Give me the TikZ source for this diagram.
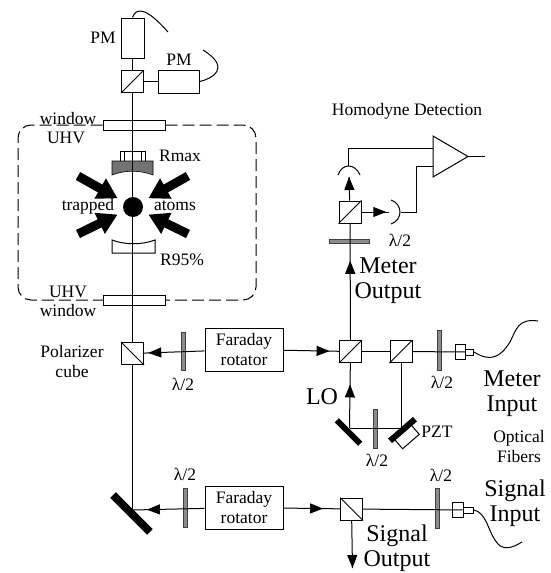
\documentclass[tikz,border=0pt]{standalone}
\usepackage{fontspec}
\setmainfont{Liberation Serif}
\usetikzlibrary{arrows.meta,calc,decorations.markings}
\tikzset{
  box/.style={draw,line width=1pt,fill=white,inner sep=0pt,align=center,font=\fontsize{17.5}{20}\selectfont},
  cube/.style={draw,line width=1pt,fill=white,inner sep=0pt,minimum size=22pt},
  plate/.style={draw=black!75,fill=black!45,line width=.7pt,inner sep=0pt},
  window/.style={draw,line width=1pt,fill=white,inner sep=0pt,minimum width=62pt,minimum height=10pt},
  mirror/.style={fill=black,inner sep=0pt,minimum width=52pt,minimum height=8pt},
  small/.style={inner sep=0pt,align=center,font=\fontsize{17.5}{20}\selectfont},
  big/.style={inner sep=0pt,align=center,font=\fontsize{24}{25}\selectfont},
  midtip/.style={postaction={decorate},decoration={markings,mark=at position #1 with {\arrow{Triangle[length=13pt,width=10pt]}}}},
  bigarrow/.style={line width=9pt,-{Triangle[length=20pt,width=22pt]}}
}
\begin{document}
\begin{tikzpicture}[x=1pt,y=-1pt,line width=1pt]
\useasboundingbox (0,0) rectangle (551,573);
\node[window] (winup) at (134,125) {};
\node[window] (winlow) at (134.5,300) {};
\draw[dash pattern=on 12pt off 5pt,rounded corners=13pt] (winup.west) -- (18,125) -- (18,300) -- (winlow.west);
\draw[dash pattern=on 12pt off 5pt,rounded corners=13pt] (winup.east) -- (256,125) -- (256,300) -- (winlow.east);
\node[box,minimum width=23pt,minimum height=40pt] (pmup) at (132.5,38) {};
\node[cube] (cubeup) at (132.5,81.5) {};
\node[box,minimum width=41pt,minimum height=23pt] (pmright) at (178.5,81.5) {};
\node[cube] (cubepol) at (132.5,353.5) {};
\node[mirror,rotate=-45] (mirrorlow) at (131.5,513.5) {};
\coordinate (turnlow) at (132.5,510);
\node[plate,minimum width=4pt,minimum height=38pt] (plateu) at (183,351) {};
\node[box,minimum width=78pt,minimum height=43pt] (farau) at (244,349.5) {Faraday\\rotator};
\node[plate,minimum width=4pt,minimum height=39pt] (platel) at (185.5,508) {};
\node[box,minimum width=78pt,minimum height=43pt] (faral) at (244,507.5) {Faraday\\rotator};
\node[cube] (cubemet) at (350.5,351.5) {};
\node[cube] (cubepzt) at (401,351.5) {};
\node[cube] (cubehom) at (350,212) {};
\node[cube] (cubesig) at (351.5,509) {};
\node[plate,minimum width=4pt,minimum height=40pt] (platem) at (439,350) {};
\node[plate,minimum width=4pt,minimum height=40pt] (plates) at (437,508) {};
\node[plate,minimum width=40pt,minimum height=4pt] (platehom) at (349,241) {};
\node[plate,minimum width=4pt,minimum height=39pt] (platelo) at (375,428.5) {};
\node[box,minimum width=10pt,minimum height=15pt] (fibm) at (460.5,352) {};
\node[box,minimum width=8pt,minimum height=6pt] (plugm) at (469.5,352) {};
\node[box,minimum width=11pt,minimum height=15pt] (fibs) at (457.5,509.5) {};
\node[box,minimum width=10pt,minimum height=6pt] (plugs) at (468,510) {};
\node[mirror,rotate=-45,minimum width=33pt,minimum height=6pt] (mirrorlo) at (348.5,432) {};
\node[draw,fill=white,rotate=41,minimum width=22pt,minimum height=12pt,inner sep=0pt] (pzt) at (407,437) {};
\node[mirror,rotate=41,minimum width=33pt,minimum height=6pt] (mirrorpzt) at (402.5,430) {};
\coordinate (turnlo) at (349.5,428);
\coordinate (turnpzt) at (401,428);
\coordinate (ampa) at (433,136);
\coordinate (ampb) at (433,177);
\coordinate (ampc) at (468,156.5);
\coordinate (ampup) at (433,148);
\coordinate (amplow) at (433,166);
\coordinate (ampout) at (485,156.5);
\coordinate (detup) at (348.5,166);
\coordinate (detright) at (401,212);
\draw (pmup) -- (cubeup);
\draw (cubeup) -- (pmright);
\draw (cubeup) -- (cubepol);
\draw (cubepol) -- (turnlow);
\draw[midtip=.93] (farau) -- (cubepol);
\draw[midtip=.8] (faral) -- (turnlow);
\draw[midtip=.83] (farau) -- (cubemet);
\draw[midtip=.7] (faral) -- (cubesig);
\draw (cubesig) -- (plugs);
\draw (cubemet) -- (cubepzt);
\draw (cubepzt) -- (plugm);
\draw (cubepzt) -- (turnpzt) -- (turnlo);
\draw[midtip=.67] (turnlo) -- (cubemet);
\draw[midtip=.68] (cubemet) -- (cubehom);
\draw[midtip=1] (cubehom) -- (349,177);
\draw[midtip=.9] (cubehom) -- (389,212);
\draw (338,175) .. controls (342,163) and (355,163) .. (360,175);
\draw (391,200) .. controls (403,204) and (403,220) .. (391,224);
\draw (detup) |- (ampup);
\draw (detright) -| (416,166) -- (amplow);
\draw[fill=white] (ampa) -- (ampb) -- (ampc) -- cycle;
\draw (ampc) -- (ampout);
\draw (cubeup.south west) -- (cubeup.north east);
\draw (cubehom.south west) -- (cubehom.north east);
\draw (cubemet.south west) -- (cubemet.north east);
\draw (cubepzt.south west) -- (cubepzt.north east);
\draw (cubepol.north west) -- (cubepol.south east);
\draw (cubesig.north west) -- (cubesig.south east);
\draw[midtip=1] (cubesig) -- (352.5,568);
\draw (120,161) -- (120,151) -- (145,151) -- (145,161) (124,151) -- (124,161) (141,151) -- (141,161);
\draw[fill=black!55,line width=.6pt] (112,161) -- (153,161) -- (153,175) .. controls (140,170) and (125,170) .. (112,175) -- cycle;
\draw[fill=white] (112,240) .. controls (125,245) and (142,245) .. (155,240) -- (155,253) -- (112,253) -- cycle;
\draw (132.5,92) -- (132.5,342);
\node[circle,fill=black,minimum size=20pt,inner sep=0pt] (atoms) at (133,207) {};
\foreach \a/\b in {78/176,188/176,78/234,188/234}
  \draw[bigarrow] (\a,\b) -- ($(\a,\b)!.72!(133,207)$);
\draw (pmup.north) .. controls (136,8) and (145,6) .. (168,32);
\draw (pmright.east) .. controls (212,79) and (232,68) .. (203,50);
\draw (plugm.east) .. controls (490,362) and (500,358) .. (510,342) .. controls (516,330) and (518,318) .. (538,321);
\draw (plugs.east) .. controls (486,512) and (488,530) .. (495,540) .. controls (502,552) and (512,548) .. (522,542);
\node[small] (labpma) at (103,38) {PM};
\node[small] (labpmb) at (179,60) {PM};
\node[small] (labwina) at (68,119) {window};
\node[small] (labuhva) at (66,138) {UHV};
\node[small] (labrmax) at (180,156) {Rmax};
\node[small] (labtrap) at (88,206) {trapped};
\node[small] (labatom) at (175,206) {atoms};
\node[small] (labr) at (182,260) {R95\%};
\node[small] (labuhvb) at (68,292) {UHV};
\node[small] (labwinb) at (68,311) {window};
\node[small] (labpol) at (72,362) {Polarizer\\cube};
\node[small] (labla) at (183,384) {λ/2};
\node[small] (lablb) at (185,474) {λ/2};
\node[small] (lablc) at (400,240) {λ/2};
\node[small] (labld) at (442,382) {λ/2};
\node[small] (lable) at (377,460) {λ/2};
\node[small] (lablf) at (441,475) {λ/2};
\node[small] (labhom) at (407,111) {Homodyne Detection};
\node[big] (labmetout) at (388,281) {Meter\\Output};
\node[big] (lablo) at (322,397) {LO};
\node[small] (labpzt) at (437,432) {PZT};
\node[big] (labmetin) at (512,394) {Meter\\Input};
\node[small] (labopt) at (519,447) {Optical\\Fibers};
\node[big] (labsigin) at (515,503) {Signal\\Input};
\node[big] (labsigout) at (397,548) {Signal\\Output};
\end{tikzpicture}
\end{document}
